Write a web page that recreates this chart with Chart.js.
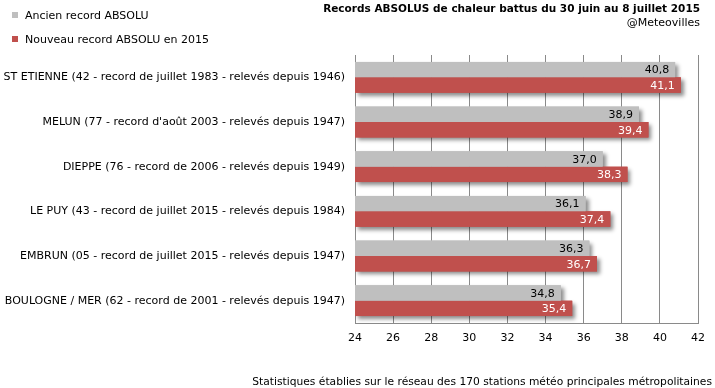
<!DOCTYPE html>
<html>
<head>
<meta charset="utf-8">
<script src="https://cdn.jsdelivr.net/npm/chart.js@4.4.0/dist/chart.umd.min.js"></script>
<style>
html,body{margin:0;padding:0;background:#fff;}
#wrap{position:relative;width:715px;height:388px;}
</style>
</head>
<body>
<div id="wrap"><canvas id="c" width="715" height="388"></canvas></div>
<script>
const categories = [
  "ST ETIENNE (42 - record de juillet 1983 - relevés depuis 1946)",
  "MELUN (77 - record d'août 2003 - relevés depuis 1947)",
  "DIEPPE (76 - record de 2006 - relevés depuis 1949)",
  "LE PUY (43 - record de juillet 2015 - relevés depuis 1984)",
  "EMBRUN (05 - record de juillet 2015 - relevés depuis 1947)",
  "BOULOGNE / MER (62 - record de 2001 - relevés depuis 1947)"
];
const ancienRecord = [40.8, 38.9, 37.0, 36.1, 36.3, 34.8];
const nouveauRecord = [41.1, 39.4, 38.3, 37.4, 36.7, 35.4];
const seriesNames = ["Ancien record ABSOLU", "Nouveau record ABSOLU en 2015"];
const xMin = 24, xMax = 42, xStep = 2;
const titleText = "Records ABSOLUS de chaleur battus du 30 juin au 8 juillet 2015";
const subtitleText = "@Meteovilles";
const footerText = "Statistiques établies sur le réseau des 170 stations météo principales métropolitaines";

const FONT = "Tahoma, 'DejaVu Sans', Verdana, sans-serif";
const fontStr = (sz, w) => (w ? w + " " : "") + sz + "px " + FONT;

// draw all bar shadows first, so that no shadow lands on any bar
const shadowPlugin = {
  id: 'barShadow',
  beforeDatasetsDraw(chart) {
    const ctx = chart.ctx;
    const ca = chart.chartArea;
    ctx.save();
    ctx.beginPath();
    ctx.rect(ca.left, ca.top, ca.right - ca.left + 20, ca.bottom - ca.top + 10);
    ctx.clip();
    ctx.shadowColor = 'rgba(0,0,0,0.45)';
    ctx.shadowBlur = 4;
    ctx.shadowOffsetX = 3;
    ctx.shadowOffsetY = 3;
    chart.data.datasets.forEach((ds, di) => {
      const meta = chart.getDatasetMeta(di);
      ctx.fillStyle = ds.backgroundColor;
      meta.data.forEach(bar => {
        const p = bar.getProps(['x', 'y', 'base', 'height'], true);
        const left = Math.max(ca.left, Math.min(p.base, p.x));
        const w = Math.max(p.base, p.x) - left;
        ctx.fillRect(left, p.y - p.height / 2, w, p.height);
      });
    });
    ctx.restore();
  }
};

const labelsPlugin = {
  id: 'valueLabels',
  afterDatasetsDraw(chart) {
    const ctx = chart.ctx;
    ctx.save();
    ctx.font = fontStr(11);
    ctx.textAlign = 'right';
    ctx.textBaseline = 'middle';
    chart.data.datasets.forEach((ds, di) => {
      const meta = chart.getDatasetMeta(di);
      meta.data.forEach((bar, i) => {
        ctx.fillStyle = di === 0 ? '#000' : '#fff';
        ctx.fillText(ds.data[i].toFixed(1).replace('.', ','), bar.x - 6, bar.y + 1);
      });
    });
    ctx.restore();
  }
};

const headerPlugin = {
  id: 'header',
  afterDraw(chart) {
    const ctx = chart.ctx;
    ctx.save();
    ctx.textBaseline = 'middle';
    ctx.fillStyle = '#000';
    ctx.textAlign = 'right';
    ctx.font = fontStr(10.5, 'bold');
    ctx.fillText(titleText, 700, 9);
    ctx.font = fontStr(11);
    ctx.fillText(subtitleText, 700, 23);
    ctx.font = fontStr(10.7);
    ctx.fillText(footerText, 712, 382);
    ctx.font = fontStr(11);
    ctx.textAlign = 'left';
    const ys = [15, 39];
    chart.data.datasets.forEach((ds, di) => {
      ctx.fillStyle = ds.backgroundColor;
      ctx.fillRect(12, ys[di] - 3, 6, 6);
      ctx.fillStyle = '#000';
      ctx.fillText(ds.label, 25, ys[di] + 1);
    });
    ctx.restore();
  }
};

new Chart(document.getElementById('c'), {
  type: 'bar',
  data: {
    labels: categories,
    datasets: [
      { label: seriesNames[0], data: ancienRecord, backgroundColor: '#BFBFBF' },
      { label: seriesNames[1], data: nouveauRecord, backgroundColor: '#C0504D' }
    ]
  },
  options: {
    indexAxis: 'y',
    responsive: false,
    animation: false,
    devicePixelRatio: 1,
    layout: { padding: { top: 55, right: 17, left: 0, bottom: 0 } },
    datasets: { bar: { barPercentage: 1.0, categoryPercentage: 0.69 } },
    plugins: { legend: { display: false }, title: { display: false }, tooltip: { enabled: false } },
    scales: {
      x: {
        type: 'linear',
        min: xMin, max: xMax,
        afterFit(scale) { scale.height = 65; },
        grid: { color: 'rgb(138,138,138)', tickLength: 0 },
        border: { color: 'rgb(138,138,138)', width: 1 },
        ticks: { stepSize: xStep, color: '#000', font: { family: FONT, size: 11 }, padding: 9, autoSkip: false, maxRotation: 0 }
      },
      y: {
        afterFit(scale) { scale.width = 355; },
        grid: { display: false, drawTicks: false, tickLength: 0 },
        border: { color: 'rgb(138,138,138)', width: 1 },
        ticks: { color: '#000', font: { family: FONT, size: 11 }, padding: 10, autoSkip: false }
      }
    }
  },
  plugins: [shadowPlugin, labelsPlugin, headerPlugin]
});
</script>
</body>
</html>
